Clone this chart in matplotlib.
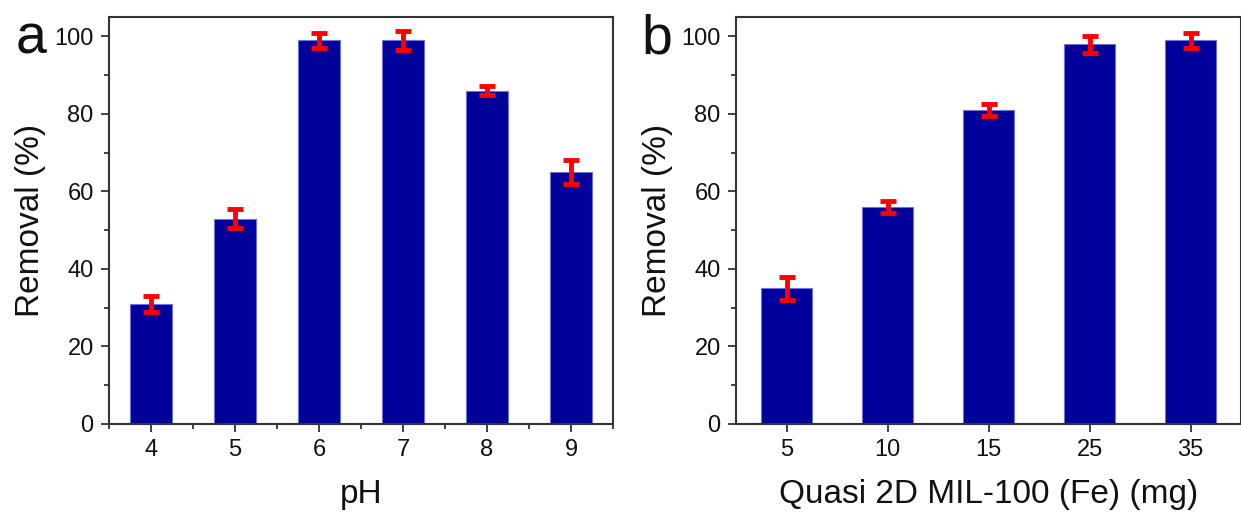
import numpy as np
import matplotlib
matplotlib.use("Agg")
import matplotlib.pyplot as plt
from matplotlib.ticker import MultipleLocator, FixedLocator

plt.rcParams['font.family'] = ['Liberation Sans', 'DejaVu Sans']

# ---------------- data ----------------
ph_labels = ['4', '5', '6', '7', '8', '9']
ph_removal = [31, 53, 99, 99, 86, 65]
ph_err = [2, 2.5, 2, 2.5, 1.2, 3]

dose_labels = ['5', '10', '15', '25', '35']
dose_removal = [35, 56, 81, 98, 99]
dose_err = [3, 1.5, 1.5, 2.2, 2]

bar_color = '#00009a'
edge_color = '#7070e0'
spine_color = '#333333'
text_color = '#111111'

fig = plt.figure(figsize=(12.41, 5.15), dpi=100)
ax_a = fig.add_axes([109 / 1241, 91 / 515, 504 / 1241, 407 / 515])
ax_b = fig.add_axes([736 / 1241, 91 / 515, 505 / 1241, 407 / 515])


def draw(ax, labels, vals, errs, xlabel, minor_x):
    x = np.arange(len(labels))
    ax.bar(x, vals, width=0.5, color=bar_color, edgecolor=edge_color, linewidth=0.8, zorder=2)
    ax.errorbar(x, vals, yerr=errs, fmt='none', ecolor='red', elinewidth=3.5,
                capsize=5.5, capthick=3.5, zorder=3)
    ax.set_xlim(-0.5, len(labels) - 0.5)
    ax.set_ylim(0, 105)
    ax.set_xticks(x)
    ax.set_xticklabels(labels)
    ax.yaxis.set_major_locator(MultipleLocator(20))
    ax.yaxis.set_minor_locator(MultipleLocator(10))
    if minor_x:
        ax.xaxis.set_minor_locator(FixedLocator(np.arange(-0.5, len(labels), 1.0)))
    ax.tick_params(which='both', direction='out', top=False, right=False,
                   color=spine_color, width=1.3, labelsize=17, labelcolor=text_color)
    ax.tick_params(which='major', length=6, pad=5)
    ax.tick_params(which='minor', length=3.5)
    for s in ax.spines.values():
        s.set_color(spine_color)
        s.set_linewidth(1.5)
    ax.set_ylabel('Removal (%)', fontsize=24, color=text_color, labelpad=6)
    ax.set_xlabel(xlabel, fontsize=24, color=text_color, labelpad=13)


draw(ax_a, ph_labels, ph_removal, ph_err, 'pH', True)
draw(ax_b, dose_labels, dose_removal, dose_err, 'Quasi 2D MIL-100 (Fe) (mg)', False)

fig.text(31 / 1241, 1 - 40 / 515, 'a', fontsize=40, ha='center', va='center', color=text_color)
fig.text(657 / 1241, 1 - 40 / 515, 'b', fontsize=40, ha='center', va='center', color=text_color)

fig.savefig('out.png', dpi=100)
